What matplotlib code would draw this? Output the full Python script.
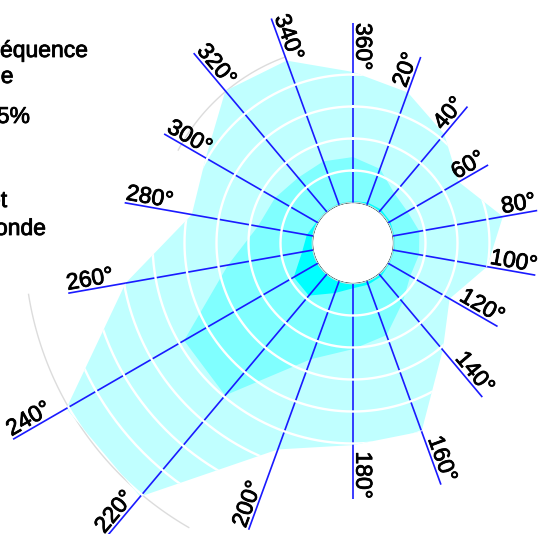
import numpy as np
import matplotlib
matplotlib.use('Agg')
import matplotlib.pyplot as plt
import matplotlib.patheffects as pe

# directions (degrés, sens horaire depuis le nord)
directions = [0, 20, 40, 60, 80, 100, 120, 140, 160,
              180, 200, 220, 240, 260, 280, 300, 320, 340]
dir_labels = ['360°', '20°', '40°', '60°', '80°', '100°', '120°', '140°', '160°',
              '180°', '200°', '220°', '240°', '260°', '280°', '300°', '320°', '340°']

# fréquences cumulées par classe (unité = un anneau)
freq_total = [4.08, 3.74, 3.17, 2.55, 3.49, 2.99, 2.22, 3.10, 5.00,
              5.05, 5.60, 9.08, 9.08, 5.95, 3.85, 4.05, 4.94, 4.80]
freq_mid = [1.42, 1.20, 0.75, 0.70, 0.84, 0.83, 0.80, 1.15, 1.80,
            2.05, 2.60, 4.95, 4.83, 2.70, 1.75, 1.55, 1.40, 1.45]
freq_low = [0.05, 0.08, 0.10, 0.08, 0.05, 0.05, 0.05, 0.10, 0.12,
            0.15, 0.40, 0.88, 0.87, 0.35, 0.20, 0.05, 0.05, 0.05]

# longueur des rayons
spoke_len = [5.61, 4.92, 4.30, 3.61, 4.58, 4.52, 3.95, 5.02, 6.77,
             6.73, 8.27, 10.70, 11.00, 7.77, 5.98, 5.55, 6.48, 6.20]

# arcs gris (rayon, début, fin en degrés)
arc_r = [4.92, 9.00]
arc_from = [298, 210]
arc_to = [340, 261]

legend_lines = ['Fréquence', 'de', '≤5%', 'Direction et', "hauteur d'onde"]

FONT = 'Liberation Sans'
FS = 16.5
W, H = 544, 534
PX = 32.0            # pixels par unité radiale
HOLE = 40.5          # rayon du trou central en pixels
RMAX = 12
CX, CY = 353, 534 - 243
heavy = [pe.withStroke(linewidth=0.6, foreground='black')]

fig = plt.figure(figsize=(W / 100, H / 100), dpi=100)
size = 2 * (RMAX + HOLE / PX) * PX
ax = fig.add_axes([(CX - size / 2) / W, (CY - size / 2) / H, size / W, size / H],
                  projection='polar')
ax.set_theta_zero_location('N')
ax.set_theta_direction(-1)
ax.set_ylim(0, RMAX)
ax.set_rorigin(-HOLE / PX)
ax.grid(False)
ax.set_xticks([])
ax.set_yticks([])
ax.spines['polar'].set_visible(False)
ax.patch.set_visible(False)

th = np.deg2rad(directions + [directions[0]])
circ = np.linspace(0, 2 * np.pi, 361)

for r, a0, a1 in zip(arc_r, arc_from, arc_to):
    t = np.deg2rad(np.linspace(a0, a1, 80))
    ax.plot(t, np.full_like(t, r), color='#dcdcdc', lw=1.0, zorder=1)

outer = ax.fill(th, freq_total + [freq_total[0]], color='#c0ffff', lw=0, zorder=2)[0]
ax.fill(th, freq_mid + [freq_mid[0]], color='#80ffff', lw=0, zorder=3)
ax.fill(th, freq_low + [freq_low[0]], color='#00ffff', lw=0, zorder=4)

# trou central
ax.fill(circ, np.zeros_like(circ), facecolor='white', edgecolor='#d8d8d8',
        lw=1.2, zorder=5)

for d, L in zip(directions, spoke_len):
    t = np.deg2rad(d)
    ax.plot([t, t], [0, L], color='#1a1aff', lw=1.2, zorder=6,
            solid_capstyle='butt')

# anneaux blancs, visibles seulement dans la rose
for k in range(1, RMAX):
    ln, = ax.plot(circ, np.full_like(circ, k), color='white', lw=1.7, zorder=7)
    ln.set_clip_path(outer)

for d, L, lab in zip(directions, spoke_len, dir_labels):
    rot = (90 - d + 90) % 180 - 90
    ha = 'right' if 0 < d <= 180 else 'left'
    off = 2.4
    ux, uy = -np.sin(np.deg2rad(rot)) * off, np.cos(np.deg2rad(rot)) * off
    ax.annotate(lab, xy=(np.deg2rad(d), L), xytext=(ux, uy),
                textcoords='offset points', rotation=rot, rotation_mode='anchor',
                ha=ha, va='baseline', fontsize=FS, family=FONT, zorder=8,
                annotation_clip=False, path_effects=heavy)

legend_right = [88, 13.5, 30, 7, 46]
legend_base = [57, 83, 123, 207, 235]
for s, xr, yb in zip(legend_lines, legend_right, legend_base):
    fig.text(xr / W, 1 - yb / H, s, ha='right', va='baseline',
             fontsize=FS, family=FONT, path_effects=heavy)

fig.savefig('out.png', dpi=100, facecolor='white')
